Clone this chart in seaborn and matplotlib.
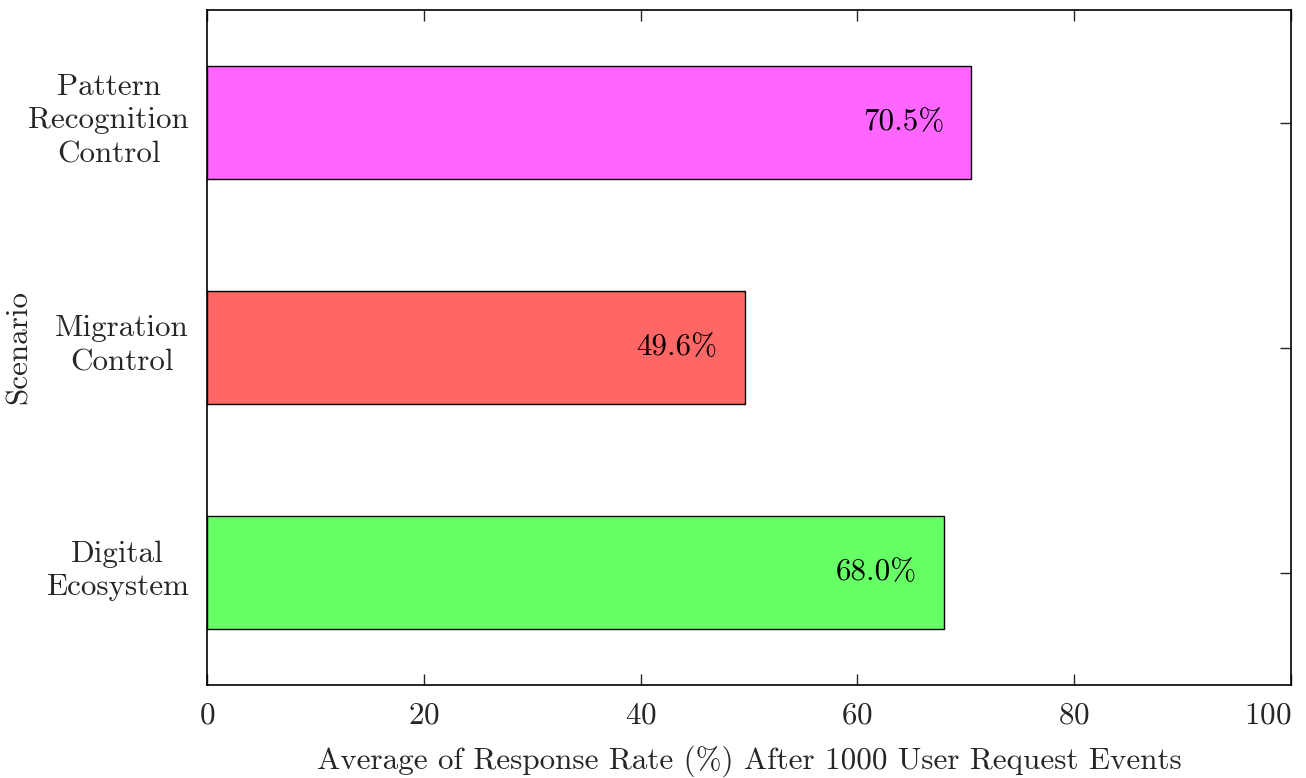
import matplotlib
matplotlib.use("Agg")
import matplotlib.pyplot as plt
import matplotlib.transforms as mtransforms
import seaborn as sns
import pandas as pd

# values
scenarios = ["Pattern\nRecognition\nControl", "Migration\nControl", "Digital\nEcosystem"]
response_rate = [70.5, 49.6, 68.0]
bar_colors = ["#FF66FF", "#FF6666", "#66FF66"]

df = pd.DataFrame({"Scenario": scenarios, "Rate": response_rate})

sns.set_theme(style="white")
plt.rcParams["font.family"] = "serif"
plt.rcParams["font.serif"] = ["cmr10", "DejaVu Serif"]
plt.rcParams["mathtext.fontset"] = "cm"
plt.rcParams["axes.unicode_minus"] = False
plt.rcParams["axes.formatter.use_mathtext"] = True

FS = 22.4

fig = plt.figure(figsize=(13.06, 7.78), dpi=100)
ax = fig.add_axes([207 / 1306, 1 - 685 / 778, (1291 - 207) / 1306, 675 / 778])

sns.barplot(data=df, x="Rate", y="Scenario", hue="Scenario", palette=bar_colors,
            saturation=1, width=0.5, edgecolor="black", linewidth=1, legend=False, ax=ax)

for i, v in enumerate(response_rate):
    ax.text(v - 2.5, i, f"{v:.1f}%", ha="right", va="center", fontsize=FS, color="black")

ax.set_xlim(0, 100)
ax.set_ylim(2.5, -0.5)
ax.set_xticks(range(0, 101, 20))
ax.set_xlabel("Average of Response Rate (%) After 1000 User Request Events", fontsize=FS, labelpad=12)
ax.set_ylabel("Scenario", fontsize=FS)
ax.yaxis.set_label_coords((33 - 207) / 1084, 0.5)
ax.tick_params(axis="both", direction="in", length=8, width=1, labelsize=FS,
               top=True, right=True, left=True, bottom=True)
ax.tick_params(axis="x", pad=12)
ax.tick_params(axis="y", pad=13)
shift = mtransforms.ScaledTranslation(0, 8 / 100, fig.dpi_scale_trans)
for lbl in ax.get_yticklabels():
    lbl.set_multialignment("center")
    lbl.set_linespacing(1.3)
    lbl.set_transform(lbl.get_transform() + shift)
ax.get_xticklabels()[-1].set_horizontalalignment("right")
for s in ax.spines.values():
    s.set_color("black")
    s.set_linewidth(1.2)

fig.savefig("out.png", dpi=100)
